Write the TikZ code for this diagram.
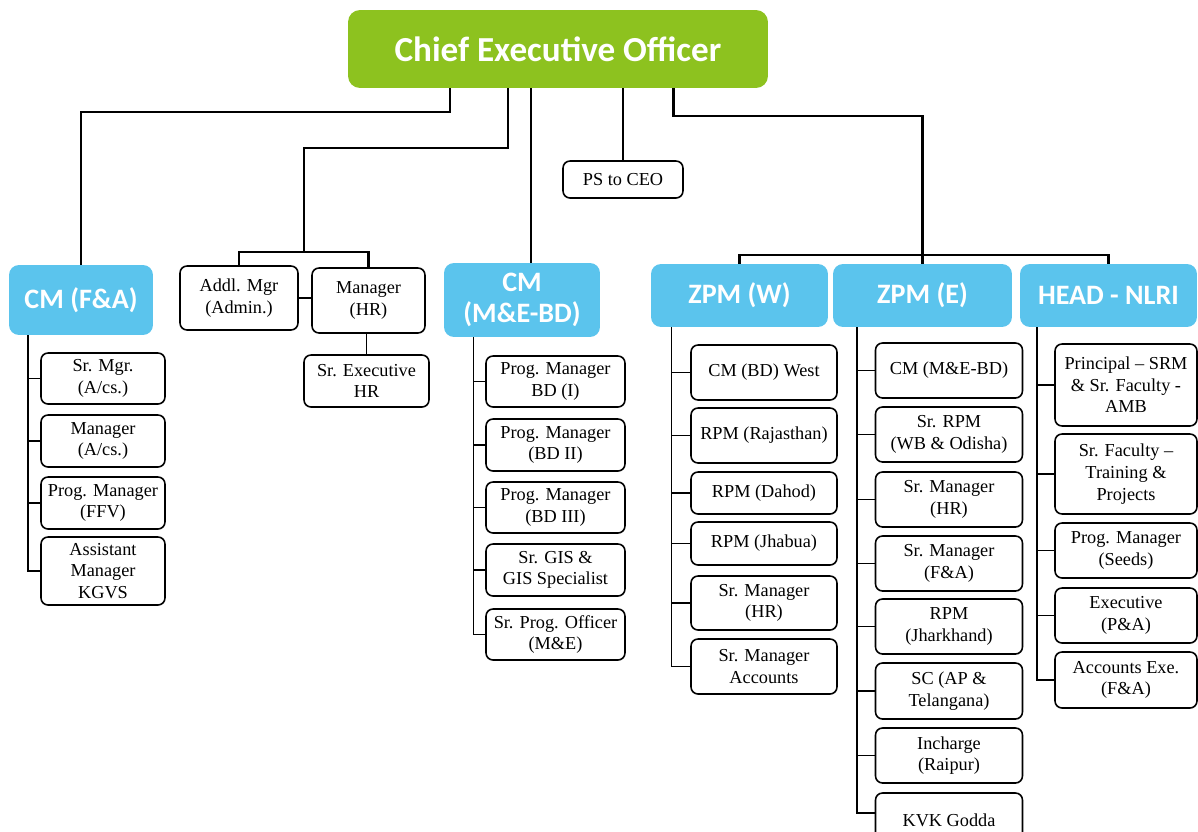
\documentclass[tikz,border=0pt]{standalone}
\usepackage{fontspec}
\setmainfont{Liberation Serif}
\newfontfamily\headfont{Carlito}
\definecolor{ceogreen}{HTML}{8DC21F}
\definecolor{headblue}{HTML}{5BC4ED}

\begin{document}
\begin{tikzpicture}[x=0.02cm, y=-0.02cm,
		ceobox/.style={fill=ceogreen, rounded corners=0.24cm, text=white, inner sep=0pt, font=\headfont\bfseries\fontsize{20}{23}\selectfont},
		headbox/.style={fill=headblue, rounded corners=0.2cm, text=white, align=center, inner sep=0pt, font=\headfont\bfseries\fontsize{16}{18}\selectfont},
		post/.style={draw, fill=white, line width=0.9pt, rounded corners=0.14cm, align=center, inner sep=0pt, font=\fontsize{10.4}{12.3}\selectfont},
		facol/.style={post, minimum width=2.48cm},
		mecol/.style={post, minimum width=2.78cm},
		zwcol/.style={post, minimum width=2.92cm},
		zecol/.style={post, minimum width=2.94cm},
		nlcol/.style={post, minimum width=2.84cm},
		topline/.style={line width=1.5pt},
		subline/.style={line width=0.85pt}]

		\useasboundingbox (0,0) rectangle (1198,832);

		\node[ceobox, minimum width=8.4cm, minimum height=1.56cm] (ceo) at (558,49) {Chief Executive Officer};

		\node[headbox, minimum width=2.88cm, minimum height=1.4cm] (fa) at (81,300) {CM (F\&A)};
		\node[headbox, minimum width=3.12cm, minimum height=1.48cm] (me) at (522,300) {CM\\(M\&E-BD)};
		\node[headbox, minimum width=3.54cm, minimum height=1.26cm] (zw) at (739.5,295.5) {ZPM (W)};
		\node[headbox, minimum width=3.58cm, minimum height=1.26cm] (ze) at (922.5,295.5) {ZPM (E)};
		\node[headbox, minimum width=3.54cm, minimum height=1.26cm] (nl) at (1108.5,295.5) {HEAD - NLRI};

		\node[post, minimum width=2.36cm, minimum height=1.28cm] (addl) at (239,298) {Addl. Mgr\\(Admin.)};
		\node[post, minimum width=2.26cm, minimum height=1.3cm] (mgrhr) at (368.5,300.5) {Manager\\(HR)};
		\node[post, minimum width=2.5cm, minimum height=1.04cm] (srexec) at (366.5,381) {Sr. Executive\\HR};
		\node[post, minimum width=2.4cm, minimum height=0.74cm] (ps) at (623,179.5) {PS to CEO};

		\coordinate (ceoA) at (450,88);
		\coordinate (ceoB) at (508,88);
		\coordinate (ceoC) at (531,88);
		\coordinate (ceoE) at (673.5,88);
		\coordinate (hrbus) at (304,252);
		\coordinate (zbus) at (922.5,255);

		\draw[topline] (ceoA) -- ++(0,24) -| (fa.north);
		\draw[topline] (ceoB) -- ++(0,60) -| (hrbus);
		\draw[topline] (addl.north) |- (hrbus) -| (mgrhr.north);
		\draw[topline] (ceoC) -- (ceoC |- me.north);
		\draw[subline] (ceo.south -| ps.north) -- (ps.north);
		\draw[topline] (ceoE) -- ++(0,28) -| (zbus);
		\draw[topline] (zw.north) |- (zbus) -| (nl.north);
		\draw[topline] (zbus) -- (ze.north);
		\draw[subline] (addl.east) -- (mgrhr.west |- addl.east);
		\draw[subline] (mgrhr.south -| srexec.north) -- (srexec.north);

		% CM (F&A)
		\node[facol, minimum height=1.02cm] (fa1) at (103,378.5) {Sr. Mgr.\\(A/cs.)};
		\node[facol, minimum height=1.04cm] (fa2) at (103,441) {Manager\\(A/cs.)};
		\node[facol, minimum height=1.04cm] (fa3) at (103,503) {Prog. Manager\\(FFV)};
		\node[facol, minimum height=1.36cm] (fa4) at (103,571) {Assistant\\Manager\\KGVS};
		\coordinate (fat) at (28,335);
		\draw[subline] (fat) |- (fa4.west);
		\draw[subline] (fat |- fa1.west) -- (fa1.west);
		\draw[subline] (fat |- fa2.west) -- (fa2.west);
		\draw[subline] (fat |- fa3.west) -- (fa3.west);

		% CM (M&E-BD)
		\node[mecol, minimum height=1.02cm] (me1) at (555.5,381.5) {Prog. Manager\\BD (I)};
		\node[mecol, minimum height=1.04cm] (me2) at (555.5,445) {Prog. Manager\\(BD II)};
		\node[mecol, minimum height=1.02cm] (me3) at (555.5,507.5) {Prog. Manager\\(BD III)};
		\node[mecol, minimum height=1.04cm] (me4) at (555.5,570) {Sr. GIS \&\\GIS Specialist};
		\node[mecol, minimum height=1.02cm] (me5) at (555.5,634.5) {Sr. Prog. Officer\\(M\&E)};
		\coordinate (met) at (473.5,337);
		\draw[subline] (met) |- (me5.west);
		\draw[subline] (met |- me1.west) -- (me1.west);
		\draw[subline] (met |- me2.west) -- (me2.west);
		\draw[subline] (met |- me3.west) -- (me3.west);
		\draw[subline] (met |- me4.west) -- (me4.west);

		% ZPM (W)
		\node[zwcol, minimum height=1.1cm] (zw1) at (764,372.5) {CM (BD) West};
		\node[zwcol, minimum height=1.1cm] (zw2) at (764,435.5) {RPM (Rajasthan)};
		\node[zwcol, minimum height=0.84cm] (zw3) at (764,493) {RPM (Dahod)};
		\node[zwcol, minimum height=0.86cm] (zw4) at (764,543.5) {RPM (Jhabua)};
		\node[zwcol, minimum height=1.08cm] (zw5) at (764,603) {Sr. Manager\\(HR)};
		\node[zwcol, minimum height=1.1cm] (zw6) at (764,666.5) {Sr. Manager\\Accounts};
		\coordinate (zwt) at (671.5,327);
		\draw[subline] (zwt) |- (zw6.west);
		\draw[subline] (zwt |- zw1.west) -- (zw1.west);
		\draw[subline] (zwt |- zw2.west) -- (zw2.west);
		\draw[subline] (zwt |- zw3.west) -- (zw3.west);
		\draw[subline] (zwt |- zw4.west) -- (zw4.west);
		\draw[subline] (zwt |- zw5.west) -- (zw5.west);

		% ZPM (E)
		\node[zecol, minimum height=1.1cm] (ze1) at (949,370.5) {CM (M\&E-BD)};
		\node[zecol, minimum height=1.1cm] (ze2) at (949,434.5) {Sr. RPM\\(WB \& Odisha)};
		\node[zecol, minimum height=1.1cm] (ze3) at (949,499.5) {Sr. Manager\\(HR)};
		\node[zecol, minimum height=1.1cm] (ze4) at (949,563.5) {Sr. Manager\\(F\&A)};
		\node[zecol, minimum height=1.1cm] (ze5) at (949,626.5) {RPM\\(Jharkhand)};
		\node[zecol, minimum height=1.12cm] (ze6) at (949,691) {SC (AP \&\\Telangana)};
		\node[zecol, minimum height=1.1cm] (ze7) at (949,755.5) {Incharge\\(Raipur)};
		\node[zecol, minimum height=1.1cm] (ze8) at (949,820.5) {KVK Godda};
		\coordinate (zet) at (857,327);
		\draw[subline] (zet) |- (ze8.west |- 0,813);
		\draw[subline] (zet |- ze1.west) -- (ze1.west);
		\draw[subline] (zet |- ze2.west) -- (ze2.west);
		\draw[subline] (zet |- ze3.west) -- (ze3.west);
		\draw[subline] (zet |- ze4.west) -- (ze4.west);
		\draw[subline] (zet |- ze5.west) -- (ze5.west);
		\draw[subline] (zet |- ze6.west) -- (ze6.west);
		\draw[subline] (zet |- ze7.west) -- (ze7.west);

		% HEAD - NLRI
		\node[nlcol, minimum height=1.64cm] (nl1) at (1126,385) {Principal -- SRM\\\& Sr. Faculty -\\AMB};
		\node[nlcol, minimum height=1.6cm] (nl2) at (1126,474) {Sr. Faculty --\\Training \&\\Projects};
		\node[nlcol, minimum height=1.1cm] (nl3) at (1126,550.5) {Prog. Manager\\(Seeds)};
		\node[nlcol, minimum height=1.1cm] (nl4) at (1126,615.5) {Executive\\(P\&A)};
		\node[nlcol, minimum height=1.12cm] (nl5) at (1126,680) {Accounts Exe.\\(F\&A)};
		\coordinate (nlt) at (1037,327);
		\draw[subline] (nlt) |- (nl5.west);
		\draw[subline] (nlt |- nl1.west) -- (nl1.west);
		\draw[subline] (nlt |- nl2.west) -- (nl2.west);
		\draw[subline] (nlt |- nl3.west) -- (nl3.west);
		\draw[subline] (nlt |- nl4.west) -- (nl4.west);
	\end{tikzpicture}
\end{document}
